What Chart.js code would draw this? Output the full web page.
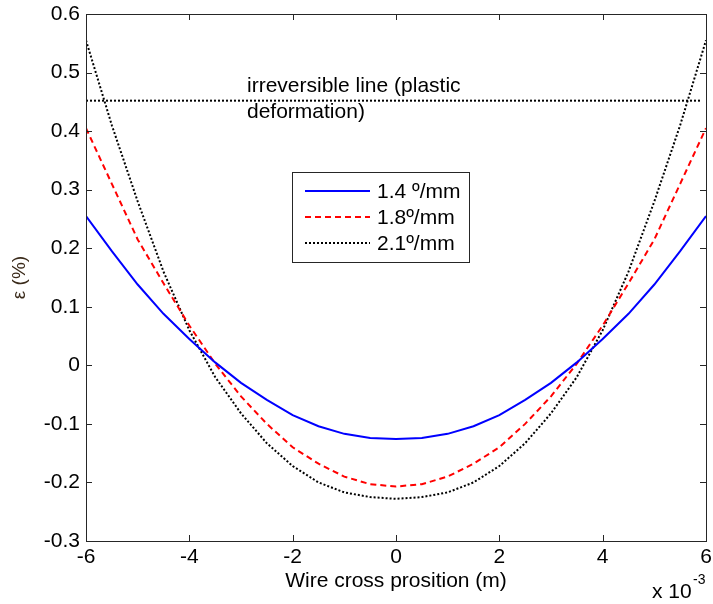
<!DOCTYPE html>
<html>
<head>
<meta charset="utf-8">
<script src="https://cdn.jsdelivr.net/npm/chart.js@4.4.1/dist/chart.umd.min.js"></script>
<style>
  body { margin: 0; background: #fff; }
  #strainChart { display: block; }
</style>
</head>
<body>
<canvas id="strainChart" width="713" height="604"></canvas>
<script>
// wire cross position (x 10^-3 m)
const positions = [-6, -5.5, -5, -4.5, -4, -3.5, -3, -2.5, -2, -1.5, -1, -0.5, 0,
                   0.5, 1, 1.5, 2, 2.5, 3, 3.5, 4, 4.5, 5, 5.5, 6];

// strain (%) for each twist rate
const strain14 = [0.255, 0.195, 0.138, 0.088, 0.045, 0.005, -0.03, -0.059, -0.085, -0.104, -0.117, -0.124, -0.126,
                  -0.124, -0.117, -0.104, -0.085, -0.059, -0.03, 0.005, 0.045, 0.088, 0.138, 0.195, 0.255];
const strain18 = [0.405, 0.31, 0.215, 0.14, 0.068, 0.003, -0.053, -0.1, -0.14, -0.168, -0.19, -0.203, -0.207,
                  -0.203, -0.19, -0.168, -0.14, -0.1, -0.053, 0.003, 0.068, 0.14, 0.215, 0.31, 0.405];
const strain21 = [0.555, 0.41, 0.28, 0.16, 0.06, -0.02, -0.082, -0.133, -0.172, -0.2, -0.217, -0.225, -0.228,
                  -0.225, -0.217, -0.2, -0.172, -0.133, -0.082, -0.02, 0.06, 0.16, 0.28, 0.41, 0.555];

const seriesLabels = ["1.4 º/mm", "1.8º/mm", "2.1º/mm"];

// irreversible (plastic deformation) limit
const limitX = [-6, 5.92];
const limitY = [0.452, 0.452];

const xTickValues = [-6, -4, -2, 0, 2, 4, 6];
const xTickLabels = ["-6", "-4", "-2", "0", "2", "4", "6"];
const yTickValues = [-0.3, -0.2, -0.1, 0, 0.1, 0.2, 0.3, 0.4, 0.5, 0.6];
const yTickLabels = ["-0.3", "-0.2", "-0.1", "0", "0.1", "0.2", "0.3", "0.4", "0.5", "0.6"];

const FONT = "Arial, 'Liberation Sans', sans-serif";

function toPoints(xs, ys) {
    return xs.map((x, i) => ({ x: x, y: ys[i] }));
}

// MATLAB style box, inward ticks, legend and notes
const matlabLook = {
    id: "matlabLook",
    afterDraw(chart) {
        const ctx = chart.ctx;
        const a = chart.chartArea;
        const xs = chart.scales.x;
        const ys = chart.scales.y;
        const tick = 6;

        ctx.save();
        ctx.strokeStyle = "#262626";
        ctx.lineWidth = 1;
        ctx.strokeRect(Math.round(a.left) + 0.5, Math.round(a.top) + 0.5,
                       Math.round(a.right - a.left), Math.round(a.bottom - a.top));

        ctx.beginPath();
        xTickValues.forEach((v) => {
            const px = Math.round(xs.getPixelForValue(v)) + 0.5;
            ctx.moveTo(px, a.bottom); ctx.lineTo(px, a.bottom - tick);
            ctx.moveTo(px, a.top); ctx.lineTo(px, a.top + tick);
        });
        yTickValues.forEach((v) => {
            const py = Math.round(ys.getPixelForValue(v)) + 0.5;
            ctx.moveTo(a.left, py); ctx.lineTo(a.left + tick, py);
            ctx.moveTo(a.right, py); ctx.lineTo(a.right - tick, py);
        });
        ctx.stroke();

        // annotation for the limit line
        ctx.fillStyle = "#000";
        ctx.font = "21px " + FONT;
        ctx.textAlign = "left";
        ctx.textBaseline = "middle";
        ctx.fillText("irreversible line (plastic", 247, 86);
        ctx.fillText("deformation)", 247, 112);

        // exponent note
        ctx.fillText("x 10", 652, 592);
        ctx.font = "14px " + FONT;
        ctx.fillText("-3", 693, 580);

        // legend box
        const lx = 292, ly = 172, lw = 177, lh = 90;
        ctx.fillStyle = "#fff";
        ctx.fillRect(lx, ly, lw, lh);
        ctx.strokeStyle = "#262626";
        ctx.lineWidth = 1;
        ctx.strokeRect(lx + 0.5, ly + 0.5, lw, lh);

        const rows = [191, 217, 243];
        chart.data.datasets.slice(0, 3).forEach((ds, i) => {
            ctx.beginPath();
            ctx.strokeStyle = ds.borderColor;
            ctx.lineWidth = ds.borderWidth;
            ctx.setLineDash(ds.borderDash || []);
            ctx.moveTo(305, rows[i]);
            ctx.lineTo(370, rows[i]);
            ctx.stroke();
            ctx.setLineDash([]);
            ctx.fillStyle = "#000";
            ctx.font = "21px " + FONT;
            ctx.fillText(ds.label, 377, rows[i] + 1);
        });
        ctx.restore();
    }
};

new Chart(document.getElementById("strainChart").getContext("2d"), {
    type: "line",
    data: {
        datasets: [
            {
                label: seriesLabels[0],
                data: toPoints(positions, strain14),
                borderColor: "#0000ff",
                borderWidth: 2,
                pointRadius: 0,
                tension: 0
            },
            {
                label: seriesLabels[1],
                data: toPoints(positions, strain18),
                borderColor: "#ff0000",
                borderWidth: 2,
                borderDash: [6, 4],
                pointRadius: 0,
                tension: 0
            },
            {
                label: seriesLabels[2],
                data: toPoints(positions, strain21),
                borderColor: "#000000",
                borderWidth: 2,
                borderDash: [2, 2],
                pointRadius: 0,
                tension: 0
            },
            {
                label: "irreversible",
                data: toPoints(limitX, limitY),
                borderColor: "#000000",
                borderWidth: 2,
                borderDash: [2, 2],
                pointRadius: 0
            }
        ]
    },
    options: {
        responsive: false,
        animation: false,
        layout: { padding: { left: 0, top: 14, right: 7, bottom: 0 } },
        plugins: {
            legend: { display: false },
            tooltip: { enabled: false }
        },
        scales: {
            x: {
                type: "linear",
                min: -6,
                max: 6,
                grid: { display: false, drawTicks: false },
                border: { display: false },
                afterFit: (scale) => {
                    scale.height = 63;
                    scale.paddingLeft = 0;
                    scale.paddingRight = 0;
                },
                afterBuildTicks: (scale) => {
                    scale.ticks = xTickValues.map((v) => ({ value: v }));
                },
                ticks: {
                    color: "#000",
                    font: { size: 21, family: FONT },
                    padding: 4,
                    maxRotation: 0,
                    callback: (value, i) => xTickLabels[i]
                },
                title: {
                    display: true,
                    text: "Wire cross prosition (m)",
                    color: "#000",
                    font: { size: 21, family: FONT },
                    padding: { top: 0, bottom: 10 }
                }
            },
            y: {
                type: "linear",
                min: -0.3,
                max: 0.6,
                grid: { display: false, drawTicks: false },
                border: { display: false },
                afterFit: (scale) => {
                    scale.width = 86;
                    scale.paddingTop = 0;
                    scale.paddingBottom = 0;
                },
                afterBuildTicks: (scale) => {
                    scale.ticks = yTickValues.map((v) => ({ value: v }));
                },
                ticks: {
                    color: "#000",
                    font: { size: 21, family: FONT },
                    padding: 6,
                    callback: (value, i) => yTickLabels[i]
                },
                title: {
                    display: true,
                    text: "ε (%)",
                    color: "#3a2a1a",
                    font: { size: 19, family: FONT },
                    padding: { top: 8, bottom: 0 }
                }
            }
        }
    },
    plugins: [matlabLook]
});
</script>
</body>
</html>
